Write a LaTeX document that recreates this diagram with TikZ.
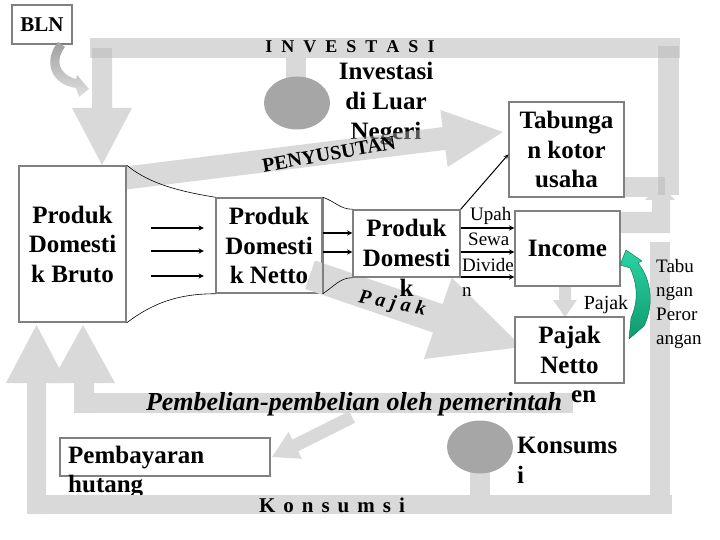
\documentclass[tikz,border=0pt]{standalone}
\usepackage{fontspec}
\setmainfont{Liberation Serif}
\usetikzlibrary{shapes.geometric,arrows}
\definecolor{greenhi}{HTML}{2AD4A4}
\definecolor{greenlo}{HTML}{0F9A6E}

\begin{document}
\begin{tikzpicture}[x=1pt, y=-1pt,
    bar/.style={fill=gray!30},
    joint/.style={fill=gray!43},
    box/.style={draw=gray, line width=1.5pt, fill=white, inner sep=0pt},
    boxtext/.style={font=\bfseries\fontsize{25}{29.5}\selectfont, align=center,
      inner sep=0pt},
    small/.style={font=\fontsize{19}{25.5}\selectfont, inner sep=0pt},
    blob/.style={ellipse, fill=gray!70, minimum width=66pt, minimum height=53pt,
      inner sep=0pt}]
  \useasboundingbox (0,0) rectangle (720,540);

  % aliran (flows)
  \fill[bar] (90,38) rectangle (680,58);
  \fill[bar] (92,48) -- (112,48) -- (112,108) -- (132,108) -- (102,165)
    -- (72,108) -- (92,108) -- cycle;
  \fill[bar] (658,46) rectangle (679,195);
  \fill[bar] (624,177) rectangle (665,197);
  \fill[bar] (620,212) -- (652,212) -- (652,200) -- (645,200) -- (660,185)
    -- (675,200) -- (670,200) -- (670,233) -- (620,233) -- cycle;
  \fill[bar] (650,242) rectangle (670,514);
  \fill[bar] (27,514) -- (27,383) -- (6,383) -- (36.5,325) -- (67,383)
    -- (46,383) -- (46,514) -- cycle;
  \fill[bar] (74,413) -- (74,383) -- (51,383) -- (83,325) -- (115,383)
    -- (94,383) -- (94,413) -- cycle;
  \fill[bar] (74,393) rectangle (573,413);
  \fill[joint] (92,48) rectangle (112,58);
  \fill[joint] (658,46) rectangle (679,58);
  \fill[joint] (658,177) rectangle (665,195);

  % investasi dan konsumsi
  \fill[bar] (286,58) rectangle (306,80);
  \fill[bar] (470,470) rectangle (490,495);
  \node[blob] (invblob) at (297,103) {};
  \node[blob] (konblob) at (480,447) {};

  \node[font=\bfseries\fontsize{18}{20}\selectfont, anchor=base] (investasi) at (350,53)
    {I\hspace{9pt}N\hspace{9pt}V\hspace{9pt}E\hspace{9pt}S\hspace{9pt}T\hspace{9pt}A\hspace{9pt}S\hspace{9pt}I};
  \node[boxtext, font=\bfseries\fontsize{25}{30}\selectfont] (luar) at (386,104)
    {Investasi\\di Luar\\Negeri};

  % panah penyusutan
  \fill[fill=gray!62, fill opacity=0.48] (124.6,166.6) -- (442.6,127.1) -- (440.4,110)
    -- (503,132) -- (447.6,167) -- (445.4,149.9) -- (127.4,189.4) -- cycle;
  \node[font=\bfseries\fontsize{20}{22}\selectfont, rotate=10] (susut) at (329,154)
    {PENYUSUTAN};
  \fill[bar] (559,286) -- (571,286) -- (571,300) -- (577,300) -- (565,317)
    -- (553,300) -- (559,300) -- cycle;
  \fill[bar] (349.1,411.2) -- (292.3,439.6) -- (288.5,432) -- (272,457)
    -- (301.9,458.8) -- (298.1,451.2) -- (354.9,422.8) -- cycle;

  % kotak
  \node[box, font=\bfseries\fontsize{21}{24}\selectfont, minimum width=60pt,
    minimum height=39pt] (bln) at (42,24.5) {BLN};
  \node[box, boxtext, minimum width=107pt, minimum height=156pt] (bruto)
    at (72.5,244) {Produk\\Domesti\\k Bruto};
  \node[box, boxtext, minimum width=106pt, minimum height=95pt] (netto)
    at (269,245.5) {Produk\\Domesti\\k Netto};
  % panah pajak, di atas kotak netto
  \fill[bar] (315,260.5) -- (442.6,304.1) -- (451.7,277.6) -- (522,347)
    -- (423.9,359) -- (433,332.5) -- (305,288.9) -- cycle;
  \draw[gray, line width=1.5pt] (netto.north east) -- (netto.south east);
  \node[box, minimum width=107pt, minimum height=67pt] (pdbox) at (406.5,243.5) {};
  \node[boxtext, font=\bfseries\fontsize{25}{30}\selectfont] (pdtext) at (406.5,258)
    {Produk\\Domesti\\k};
  \node[box, boxtext, minimum width=115pt, minimum height=95pt] (tabungan)
    at (566.5,149.5) {Tabunga\\n kotor\\usaha};
  \node[small, anchor=west, align=left] (balas) at (462,252)
    {\hspace*{8pt}Upah\\\hspace*{6pt}Sewa\\Divide\\n};
  \node[box, boxtext, minimum width=105pt, minimum height=75pt] (income)
    at (567.5,248.5) {Income};
  \node[box, boxtext, minimum width=109pt, minimum height=66pt] (pajaknetto)
    at (569.5,350) {Pajak\\Netto};
  \node[boxtext, anchor=base west] (pnsisa) at (571,402) {en};
  \node[box, minimum width=210pt, minimum height=38pt] (bayar) at (165,457) {};
  \node[boxtext, anchor=west, align=left] (bayartext) at (68,472)
    {Pembayaran\\hutang};

  \begin{scope}[->, >=stealth, line width=1.3pt]
    \foreach \y in {228,251,276}
      \draw (bruto.east |- 0,\y) ++(24,0) -- ++(53,0);
    \foreach \y in {233,252}
      \draw (netto.east |- 0,\y) -- (pdbox.west |- 0,\y);
    \foreach \y in {228,252,277}
      \draw (pdbox.east |- 0,\y) -- (income.west |- 0,\y);
    \draw[line width=1pt] (pdbox.north east) -- ([yshift=-5pt]tabungan.west);
  \end{scope}
  \begin{scope}[line width=0.6pt]
    \draw (bruto.north east) .. controls +(24,20) and +(-30,-5) .. (netto.north west);
    \draw (bruto.south east) .. controls +(24,-18) and +(-40,0) .. (netto.south west);
    \draw (netto.north east) .. controls +(12,4) and +(-12,0) .. (pdbox.north west);
    \draw (netto.south east) .. controls +(12,-8) and +(-12,0) .. (pdbox.south west);
  \end{scope}

  \node[font=\bfseries\itshape\fontsize{20}{22}\selectfont, rotate=-11] (pajakmiring)
    at (392,304) {P\hspace{5pt}a\hspace{5pt}j\hspace{5pt}a\hspace{5pt}k};
  \node[small, font=\fontsize{20}{24}\selectfont] (pajaklabel) at (606,305) {Pajak};
  \node[small, font=\fontsize{19}{24}\selectfont, anchor=west, align=left] (perorangan)
    at (656,304) {Tabu\\ngan\\Peror\\angan};
  \node[font=\bfseries\itshape\fontsize{26}{28}\selectfont, anchor=base] (beli)
    at (354,410) {Pembelian-pembelian oleh pemerintah};
  \node[boxtext, font=\bfseries\fontsize{25}{30}\selectfont, anchor=west, align=left]
    (konsums) at (517,460) {Konsums\\i};

  % panah melengkung
  \shade[top color=greenhi, bottom color=greenlo, draw=greenlo!70!black, line width=0.4pt]
    (626,250) -- (642,261) -- (638,263) .. controls (652,280) and (654,306) .. (644,326)
    -- (629,339) -- (631,318) .. controls (639,300) and (637,283) .. (630,268)
    -- (620,265) -- cycle;
  \shade[top color=gray!75, bottom color=gray!25]
    (58,42) -- (65,47) .. controls (55,60) and (58,74) .. (76,79) -- (77,75)
    -- (89,89) -- (79,97) -- (76,88) .. controls (52,85) and (42,62) .. (58,42) -- cycle;

  \fill[bar] (27,495) rectangle (672,514);
  \node[font=\bfseries\fontsize{21}{24}\selectfont, anchor=base] (konsumsi) at (332,512)
    {K\hspace{8pt}o\hspace{8pt}n\hspace{8pt}s\hspace{8pt}u\hspace{8pt}m\hspace{8pt}s\hspace{8pt}i};
\end{tikzpicture}
\end{document}
